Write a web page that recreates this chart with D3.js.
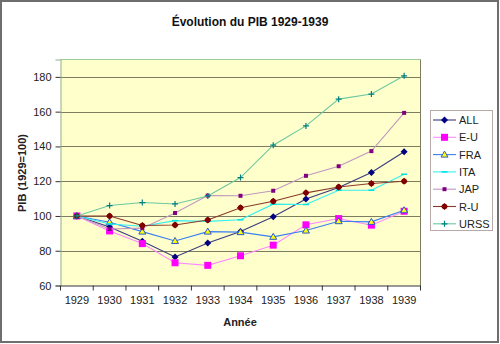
<!DOCTYPE html>
<html><head><meta charset="utf-8">
<script src="https://cdn.jsdelivr.net/npm/d3@7"></script>
<style>
html,body{margin:0;padding:0;background:#fff;}
svg{display:block;font-family:"Liberation Sans",Arial,sans-serif;}
</style></head>
<body>
<svg id="c" width="500" height="344"></svg>
<script>
const years = ["1929","1930","1931","1932","1933","1934","1935","1936","1937","1938","1939"];
const seriesNames = ["ALL","E-U","FRA","ITA","JAP","R-U","URSS"];
const ALL  = [100, 93.7, 85.5, 76.4, 84.5, 91.0, 99.5, 109.7, 116.4, 125.0, 136.9];
const EU   = [100, 91.4, 84.1, 73.1, 71.6, 77.1, 83.2, 94.9, 98.5, 94.7, 102.7];
const FRA  = [100, 96.4, 91.0, 85.6, 91.0, 90.7, 88.0, 91.6, 97.0, 96.6, 103.3];
const ITA  = [100, 95.4, 94.1, 97.3, 96.9, 97.8, 106.8, 106.6, 114.8, 114.8, 124.0];
const JAP  = [100, 92.5, 93.0, 101.7, 111.7, 111.6, 114.5, 123.1, 128.6, 137.3, 159.3];
const RU   = [100, 100.0, 94.5, 94.8, 97.7, 104.7, 108.5, 113.3, 116.7, 118.7, 120.0];
const URSS = [100, 106.0, 107.7, 106.9, 111.5, 122.1, 140.7, 151.8, 167.2, 170.1, 180.6];
const yTicks = [60, 80, 100, 120, 140, 160, 180];

const values = [ALL, EU, FRA, ITA, JAP, RU, URSS];
const styles = [
  {line:"#3a3a80", fill:"#000080", stroke:"#000080", shape:"diamond"},
  {line:"#ff88ff", fill:"#ff00ff", stroke:"#ff00ff", shape:"square"},
  {line:"#3a7ef0", fill:"#ffff00", stroke:"#2a5ad0", shape:"triangle"},
  {line:"#33f0f0", fill:"#00e0e0", stroke:"#00e0e0", shape:"dash"},
  {line:"#c098c0", fill:"#800080", stroke:"#800080", shape:"smallsq"},
  {line:"#8a3a2a", fill:"#800000", stroke:"#800000", shape:"circle"},
  {line:"#6cc8a0", fill:"#008080", stroke:"#008080", shape:"plus"}
];

const svg = d3.select("#c");
const L = 60.5, R = 420.5, T = 59.5, B = 285.5;

svg.append("rect").attr("x",1).attr("y",1).attr("width",497).attr("height",341)
  .attr("fill","#fff").attr("stroke","#6e6e6e").attr("stroke-width",2);

const x = d3.scaleBand().domain(years).range([L, R]).paddingInner(0).paddingOuter(0);
const y = d3.scaleLinear().domain([60, 190]).range([B, T]);

svg.append("rect").attr("x",L).attr("y",T).attr("width",R-L).attr("height",B-T)
  .attr("fill","#ffffcc");

svg.append("g").selectAll("line").data(yTicks.filter(d=>d>60)).join("line")
  .attr("x1",L).attr("x2",R)
  .attr("y1",d=>Math.round(y(d))+0.5).attr("y2",d=>Math.round(y(d))+0.5)
  .attr("stroke","#7c7c60").attr("stroke-width",1);

svg.append("line").attr("x1",L).attr("x2",R).attr("y1",T).attr("y2",T).attr("stroke","#99cc99");
svg.append("line").attr("x1",R).attr("x2",R).attr("y1",T).attr("y2",B).attr("stroke","#7c7c60");

const yAxis = svg.append("g").attr("transform",`translate(${L},0)`)
  .call(d3.axisLeft(y).tickValues(yTicks).tickSize(5).tickPadding(4));
yAxis.select(".domain").attr("stroke","#8fb08f");
yAxis.selectAll(".tick line").attr("stroke","#333");
yAxis.selectAll(".tick text").attr("font-size",11).attr("fill","#222")
  .attr("font-family","Liberation Sans, Arial, sans-serif");

const xAxis = svg.append("g").attr("transform",`translate(0,${B})`)
  .call(d3.axisBottom(x).tickSize(0).tickPadding(11));
xAxis.select(".domain").attr("stroke","#333");
xAxis.selectAll(".tick text").attr("font-size",11).attr("fill","#222")
  .attr("font-family","Liberation Sans, Arial, sans-serif");
const bounds = years.map(d=>x(d)).concat([x(years[years.length-1])+x.bandwidth()]);
xAxis.selectAll("line.sep").data(bounds).join("line").attr("class","sep")
  .attr("x1",d=>d).attr("x2",d=>d).attr("y1",0).attr("y2",5).attr("stroke","#333");

svg.append("text").attr("x",250).attr("y",26).attr("text-anchor","middle")
  .attr("font-size",12).attr("font-weight","bold").attr("fill","#111")
  .text("Évolution du PIB 1929-1939");
svg.append("text").attr("x",240).attr("y",326).attr("text-anchor","middle")
  .attr("font-size",11).attr("font-weight","bold").attr("fill","#222").text("Année");
svg.append("text").attr("transform","translate(26,173) rotate(-90)").attr("text-anchor","middle")
  .attr("font-size",11).attr("font-weight","bold").attr("fill","#222").text("PIB (1929=100)");

function marker(g, shape, st, cx, cy){
  if(shape==="diamond"){
    g.append("path").attr("d",`M${cx},${cy-3.5}L${cx+3.5},${cy}L${cx},${cy+3.5}L${cx-3.5},${cy}Z`).attr("fill",st.fill);
  } else if(shape==="square"){
    g.append("rect").attr("x",cx-3.5).attr("y",cy-3.5).attr("width",7).attr("height",7).attr("fill",st.fill);
  } else if(shape==="triangle"){
    g.append("path").attr("d",`M${cx},${cy-3.5}L${cx+3.5},${cy+2.5}L${cx-3.5},${cy+2.5}Z`).attr("fill",st.fill).attr("stroke",st.stroke).attr("stroke-width",1);
  } else if(shape==="dash"){
    g.append("line").attr("x1",cx-3).attr("x2",cx+3).attr("y1",cy).attr("y2",cy).attr("stroke",st.stroke).attr("stroke-width",1.5);
  } else if(shape==="smallsq"){
    g.append("rect").attr("x",cx-2).attr("y",cy-2).attr("width",4).attr("height",4).attr("fill",st.fill);
  } else if(shape==="circle"){
    g.append("path").attr("d",`M${cx},${cy-3.5}L${cx+3.5},${cy}L${cx},${cy+3.5}L${cx-3.5},${cy}Z`).attr("fill",st.fill);
    g.append("circle").attr("cx",cx).attr("cy",cy).attr("r",2.7).attr("fill",st.fill);
  } else if(shape==="plus"){
    g.append("path").attr("d",`M${cx-3},${cy}H${cx+3}M${cx},${cy-3}V${cy+3}`).attr("stroke",st.stroke).attr("stroke-width",1.2);
  }
}

const line = d3.line().x((d,i)=>x(years[i])+x.bandwidth()/2).y(d=>y(d));
const plot = svg.append("g");
values.forEach((vals,k)=>{
  const st = styles[k];
  const g = plot.append("g");
  g.append("path").datum(vals).attr("d",line).attr("fill","none").attr("stroke",st.line).attr("stroke-width",1.1);
  vals.forEach((v,i)=>marker(g, st.shape, st, x(years[i])+x.bandwidth()/2, y(v)));
});

const lg = svg.append("g");
lg.append("rect").attr("x",430.5).attr("y",110.5).attr("width",62).attr("height",120)
  .attr("fill","#fff").attr("stroke","#b8a8a8");
seriesNames.forEach((n,k)=>{
  const st = styles[k];
  const cy = 120 + k*17.3;
  lg.append("line").attr("x1",433).attr("x2",456).attr("y1",cy).attr("y2",cy).attr("stroke",st.line).attr("stroke-width",1.1);
  marker(lg, st.shape, st, 444.5, cy);
  lg.append("text").attr("x",459).attr("y",cy+4).attr("font-size",11).attr("fill","#222").text(n);
});
</script>
</body></html>
